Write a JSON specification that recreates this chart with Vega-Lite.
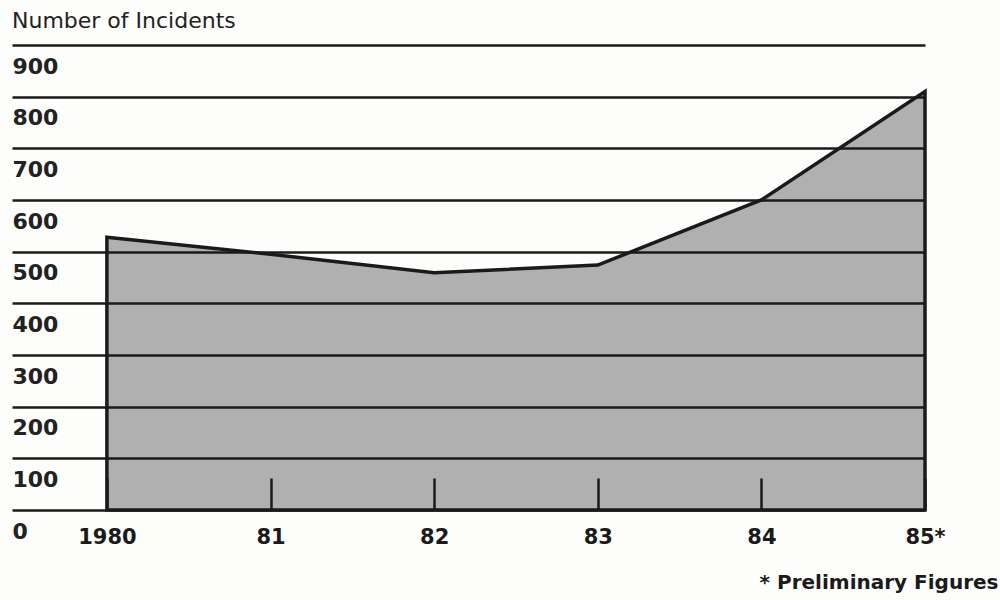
{
  "$schema": "https://vega.github.io/schema/vega-lite/v6.json",
  "width": 913,
  "height": 465,
  "autosize": {"type": "none"},
  "padding": {"left": 12, "top": 45, "right": 75, "bottom": 90},
  "background": "#fdfdfb",
  "title": {
    "text": "Number of Incidents",
    "anchor": "start",
    "frame": "group",
    "font": "DejaVu Sans",
    "fontSize": 22,
    "fontWeight": "normal",
    "color": "#222222",
    "offset": -5,
    "baseline": "alphabetic"
  },
  "data": {
    "values": [
      {"year": 1980, "incidents": 528},
      {"year": 1981, "incidents": 495},
      {"year": 1982, "incidents": 459},
      {"year": 1983, "incidents": 474},
      {"year": 1984, "incidents": 600},
      {"year": 1985, "incidents": 810}
    ]
  },
  "mark": {"type": "area", "fill": "#b0b0b0", "stroke": "#1a1a1a", "strokeWidth": 3.5, "strokeJoin": "miter"},
  "encoding": {
    "x": {
      "field": "year",
      "type": "quantitative",
      "scale": {"domain": [1979.42, 1985], "nice": false, "zero": false},
      "axis": {
        "values": [1980, 1981, 1982, 1983, 1984, 1985],
        "labelExpr": "datum.value == 1980 ? '1980' : datum.value == 1985 ? '85*' : slice(toString(datum.value), 2)",
        "grid": false,
        "domain": false,
        "ticks": true,
        "tickSize": -32,
        "tickWidth": 2.5,
        "tickColor": "#1a1a1a",
        "labelFont": "DejaVu Sans",
        "labelFontWeight": "bold",
        "labelFontSize": 21,
        "labelColor": "#1a1a1a",
        "labelPadding": 59,
        "labelBaseline": "middle",
        "labelFlush": false,
        "labelOverlap": false,
        "title": "* Preliminary Figures",
        "titleX": 986,
        "titleY": 72,
        "titleAlign": "right",
        "titleBaseline": "middle",
        "titleFont": "DejaVu Sans",
        "titleFontWeight": "bold",
        "titleFontSize": 20,
        "titleColor": "#1a1a1a",
        "zindex": 1
      }
    },
    "y": {
      "field": "incidents",
      "type": "quantitative",
      "scale": {"domain": [0, 900], "nice": false},
      "axis": {
        "values": [0, 100, 200, 300, 400, 500, 600, 700, 800, 900],
        "grid": true,
        "gridColor": "#1a1a1a",
        "gridWidth": 2.5,
        "gridOpacity": 1,
        "domain": false,
        "ticks": false,
        "labelAlign": "left",
        "labelPadding": 0,
        "labelOffset": 21,
        "labelBaseline": "middle",
        "labelFont": "DejaVu Sans",
        "labelFontWeight": "bold",
        "labelFontSize": 22,
        "labelColor": "#222222",
        "labelFlush": false,
        "labelOverlap": false,
        "title": null,
        "zindex": 1
      }
    }
  },
  "config": {"view": {"stroke": null}}
}
